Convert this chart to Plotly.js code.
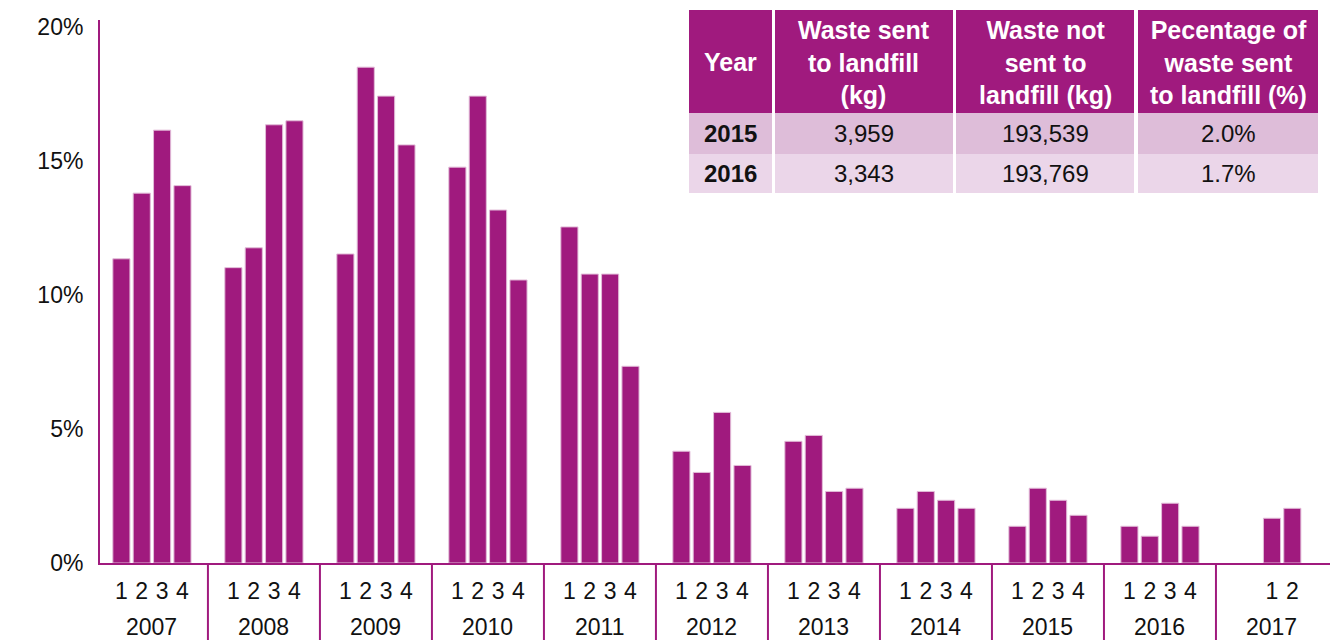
<!DOCTYPE html>
<html>
<head>
<meta charset="utf-8">
<script src="https://cdn.plot.ly/plotly-3.0.1.min.js"></script>
<style>
  html, body { margin: 0; padding: 0; background: #fff; }
  #chart { width: 1335px; height: 640px; }
</style>
</head>
<body>
<div id="chart"></div>
<script>
// ---------------- DATA ----------------
const years = ['2007', '2008', '2009', '2010', '2011', '2012', '2013', '2014', '2015', '2016', '2017'];
const quarterLabels = ['1', '2', '3', '4'];

// Percentage of waste sent to landfill, per quarter
const pct2007 = [11.35, 13.8, 16.15, 14.08];
const pct2008 = [11.02, 11.76, 16.35, 16.5];
const pct2009 = [11.53, 18.5, 17.42, 15.6];
const pct2010 = [14.77, 17.42, 13.17, 10.56];
const pct2011 = [12.54, 10.78, 10.78, 7.34];
const pct2012 = [4.17, 3.38, 5.62, 3.64];
const pct2013 = [4.54, 4.76, 2.67, 2.79];
const pct2014 = [2.04, 2.67, 2.34, 2.04];
const pct2015 = [1.37, 2.79, 2.34, 1.78];
const pct2016 = [1.37, 1.0, 2.23, 1.37];
const pct2017 = [1.67, 2.04];
const pctByYear = [pct2007, pct2008, pct2009, pct2010, pct2011, pct2012, pct2013, pct2014, pct2015, pct2016, pct2017];

const yTicks = [0, 5, 10, 15, 20];

// Summary table
const tableHeaders = ['Year', 'Waste sent<br>to landfill<br>(kg)', 'Waste not<br>sent to<br>landfill (kg)', 'Pecentage of<br>waste sent<br>to landfill (%)'];
const tableYears = ['2015', '2016'];
const tableSentKg = ['3,959', '3,343'];
const tableNotSentKg = ['193,539', '193,769'];
const tablePct = ['2.0%', '1.7%'];

// ---------------- STYLE / LAYOUT ----------------
const PURPLE = 'rgb(160,26,126)';
const EDGE = 'rgb(226,188,216)';
const ROW1 = 'rgb(222,189,217)';
const ROW2 = 'rgb(235,214,233)';
const FONT = '"Liberation Sans", Arial, sans-serif';
const W = 1335, H = 640;
const M = {l: 100, r: 5, t: 20, b: 77};
const GROUP = 5.5;                 // category units per year group
const plotW = W - M.l - M.r, plotH = H - M.t - M.b;

// Build bar positions from year index / quarter number
const xs = [], ys = [], tickVals = [], tickText = [];
pctByYear.forEach((vals, g) => {
  const n = vals.length;
  const start = g * GROUP + 1.25 + 0.75 * (4 - n);
  vals.forEach((v, i) => {
    xs.push(start + i);
    ys.push(v);
    tickVals.push(start + i);
    tickText.push(quarterLabels[i]);
  });
});

const px2paperX = p => (p - M.l) / plotW;
const px2paperY = p => (H - M.b - p) / plotH;

const shapes = [];
const annotations = [];

// Year-group separators below the axis
for (let g = 1; g < years.length; g++) {
  shapes.push({type: 'line', xref: 'x', yref: 'paper', x0: g * GROUP, x1: g * GROUP,
    y0: 0, y1: px2paperY(H + 2), line: {color: PURPLE, width: 2}, layer: 'above'});
}
// Year labels
years.forEach((yr, g) => {
  annotations.push({text: yr, xref: 'x', yref: 'paper', x: g * GROUP + GROUP / 2,
    y: px2paperY(626.5), xanchor: 'center', yanchor: 'middle', showarrow: false,
    font: {family: FONT, size: 23, color: '#111'}});
});

// Table (pixel geometry)
const colX = [[689, 772], [775, 953], [956, 1134], [1138, 1318]];
const rowY = [[10, 113], [113, 154], [154, 193]];
const rowFill = [PURPLE, ROW1, ROW2];
const bodyCols = [tableYears, tableSentKg, tableNotSentKg, tablePct];

rowY.forEach((ry, r) => {
  colX.forEach((cx, c) => {
    shapes.push({type: 'rect', xref: 'paper', yref: 'paper',
      x0: px2paperX(cx[0]), x1: px2paperX(cx[1]),
      y0: px2paperY(ry[1]), y1: px2paperY(ry[0]),
      fillcolor: rowFill[r], line: {width: 0}, layer: 'above'});
    let text, font;
    if (r === 0) {
      text = '<b>' + tableHeaders[c] + '</b>';
      font = {family: FONT, size: 25, color: '#fff'};
    } else {
      const t = bodyCols[c][r - 1];
      text = c === 0 ? '<b>' + t + '</b>' : t;
      font = {family: FONT, size: 24, color: '#111'};
    }
    annotations.push({text: text, xref: 'paper', yref: 'paper',
      x: px2paperX((cx[0] + cx[1]) / 2), y: px2paperY((ry[0] + ry[1]) / 2 + (r === 0 ? 1 : 0)),
      xanchor: 'center', yanchor: 'middle', showarrow: false, align: 'center', font: font});
  });
});

const trace = {
  type: 'bar', x: xs, y: ys, width: 0.84,
  marker: {color: PURPLE, line: {color: EDGE, width: 1}},
  hoverinfo: 'skip'
};

const layout = {
  width: W, height: H,
  margin: M,
  paper_bgcolor: '#fff', plot_bgcolor: '#fff',
  showlegend: false,
  font: {family: FONT, color: '#111'},
  bargap: 0,
  xaxis: {
    type: 'linear', range: [0.2, 60.6], fixedrange: true,
    showgrid: false, zeroline: false, showline: true, linecolor: PURPLE, linewidth: 2,
    tickmode: 'array', tickvals: tickVals, ticktext: tickText, ticks: '',
    tickfont: {family: FONT, size: 23, color: '#111'}, ticklabelstandoff: 6
  },
  yaxis: {
    range: [0, 20.26], fixedrange: true,
    showgrid: false, zeroline: false, showline: true, linecolor: PURPLE, linewidth: 2,
    tickmode: 'array', tickvals: yTicks, ticktext: yTicks.map(v => v + '%'), ticks: '',
    tickfont: {family: FONT, size: 23, color: '#111'}, ticklabelstandoff: 10
  },
  shapes: shapes,
  annotations: annotations
};

Plotly.newPlot('chart', [trace], layout, {displayModeBar: false, staticPlot: true});
</script>
</body>
</html>
